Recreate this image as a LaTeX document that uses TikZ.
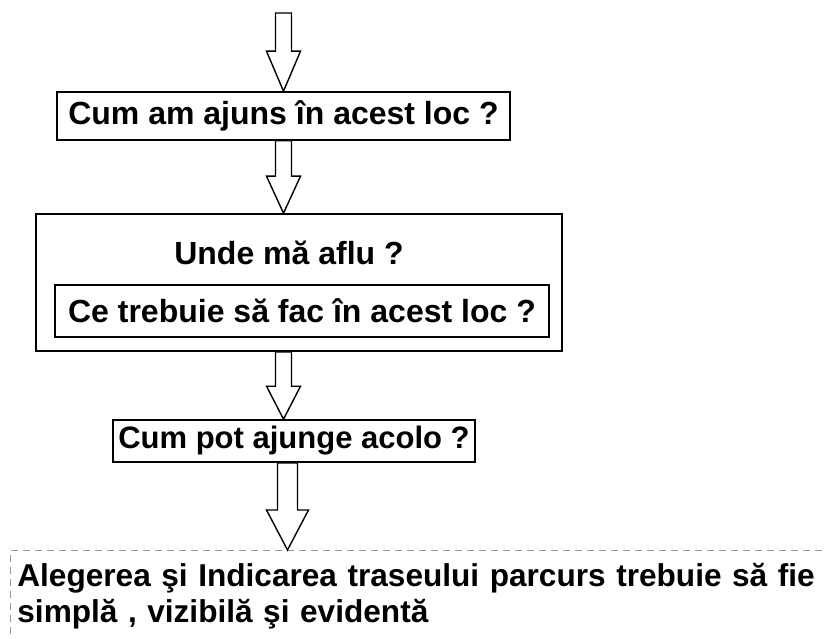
\documentclass[tikz,border=0pt]{standalone}
\usepackage{fontspec}
\setmainfont{Liberation Sans}
\usetikzlibrary{calc}

\tikzset{
  qbox/.style={draw, line width=1.6pt, inner sep=0pt, font=\bfseries\fontsize{32}{37}\selectfont},
  qtext/.style={inner sep=0pt, font=\bfseries\fontsize{32}{37}\selectfont},
  hollow/.style={draw, line width=1.4pt, fill=white, line join=miter},
  notebox/.style={draw=gray!80, line width=0.8pt, dash pattern=on 7pt off 5pt,
    inner xsep=7pt, inner ysep=13pt, align=left, font=\bfseries\fontsize{31.6}{36}\selectfont},
}

% hollow block arrow: from, to, shaft half width, head half width, head length
\newcommand{\blockarrow}[5]{%
  \draw[hollow] let \p1=(#1), \p2=(#2) in
    (\x1-#3pt,\y1) -- (\x1-#3pt,\y2+#5pt) -- (\x1-#4pt,\y2+#5pt) -- (\x1,\y2)
    -- (\x1+#4pt,\y2+#5pt) -- (\x1+#3pt,\y2+#5pt) -- (\x1+#3pt,\y1) -- cycle;}

\begin{document}
\begin{tikzpicture}[x=1pt, y=-1pt]
    \useasboundingbox (0,0) rectangle (827,639);

    \coordinate (start) at (283.5,13);
    \node[qbox, minimum width=453, minimum height=48] (arrive) at (283.5,116) {Cum am ajuns în acest loc ?};

    \node[draw, line width=1.6pt, minimum width=526, minimum height=137] (where) at (299,282.5) {};
    \node[qtext] (wherelbl) at (289,253) {Unde mă aflu ?};
    \node[qbox, minimum width=494, minimum height=52] (todo) at (302,311) {Ce trebuie să fac în acest loc ?};

    \node[qbox, minimum width=362, minimum height=42, font=\bfseries\fontsize{31}{37}\selectfont] (reach) at (294,441) {Cum pot ajunge acolo ?};

    \node[notebox, anchor=north west, text width=860, text depth=70pt] (note) at (10,550)
      {Alegerea şi Indicarea traseului parcurs trebuie să fie\\simplă , vizibilă şi evidentă};

    \blockarrow{start}{arrive.north}{8}{17}{40}
    \blockarrow{arrive.south}{where.north}{8}{17}{37}
    \blockarrow{where.south -| arrive.south}{reach.north}{8}{17}{33}
    \blockarrow{$(reach.south -| arrive.south)+(4,0)$}{note.north}{10}{21}{40}
\end{tikzpicture}
\end{document}
